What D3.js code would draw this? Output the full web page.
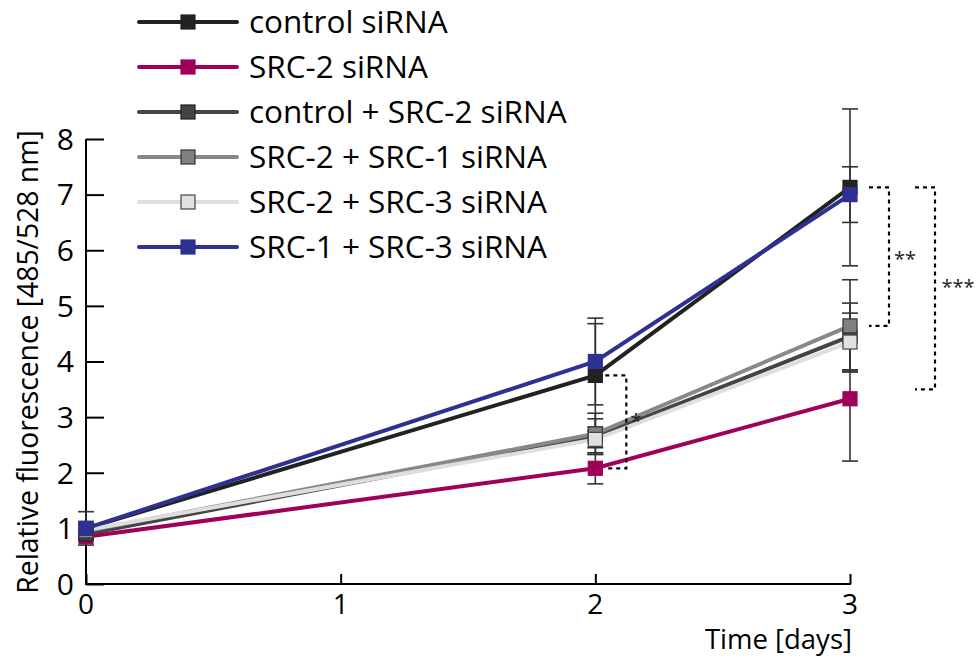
<!DOCTYPE html>
<html><head><meta charset="utf-8">
<script src="https://cdn.jsdelivr.net/npm/d3@7"></script>
<style>body{margin:0;background:#fff;} text{font-family:"Open Sans",sans-serif;}</style>
</head><body>
<svg id="c" width="977" height="660"></svg>
<script>
const days = [0, 2, 3];
const seriesNames = ["control siRNA","SRC-2 siRNA","control + SRC-2 siRNA","SRC-2 + SRC-1 siRNA","SRC-2 + SRC-3 siRNA","SRC-1 + SRC-3 siRNA"];
const controlVals = [1.0, 3.75, 7.13];
const src2Vals = [0.85, 2.08, 3.33];
const ctrlSrc2Vals = [0.9, 2.65, 4.45];
const src2src1Vals = [0.95, 2.7, 4.64];
const src2src3Vals = [0.97, 2.6, 4.35];
const src1src3Vals = [1.0, 4.0, 7.0];
const controlErr = [0.3, 0.93, 1.41];
const src2Err = [0.05, 0.28, 1.12];
const ctrlSrc2Err = [0.1, 0.32, 0.6];
const src2src1Err = [0.1, 0.37, 0.83];
const src2src3Err = [0.1, 0.15, 0.52];
const src1src3Err = [0.1, 0.78, 0.5];
const xTicks = [0, 1, 2, 3];
const yTicks = [0,1,2,3,4,5,6,7,8];
const lineColors = ["#222222","#a0005a","#444444","#888888","#dedede","#2e3192"];
const markerFill = ["#222222","#a0005a","#444444","#808080","#e0e0e0","#2e3192"];
const markerStroke = ["#222222","#a0005a","#222222","#333333","#444444","#2e3192"];

const vals = [controlVals, src2Vals, ctrlSrc2Vals, src2src1Vals, src2src3Vals, src1src3Vals];
const errs = [controlErr, src2Err, ctrlSrc2Err, src2src1Err, src2src3Err, src1src3Err];

const svg = d3.select("#c");
const x = d3.scaleLinear().domain([0,3]).range([86,850]);
const y = d3.scaleLinear().domain([0,8]).range([584,139]);

// axes
const yAxis = d3.axisRight(y).tickValues(yTicks).tickSize(18).tickFormat("");
svg.append("g").attr("transform","translate(86,0)").call(yAxis)
  .call(g=>g.select(".domain").remove())
  .call(g=>g.selectAll("line").attr("stroke","#000").attr("stroke-width",2));
svg.append("line").attr("x1",86).attr("x2",86).attr("y1",y(8)).attr("y2",y(0)+1).attr("stroke","#000").attr("stroke-width",2);
const xAxis = d3.axisTop(x).tickValues(xTicks).tickSize(10).tickFormat("");
svg.append("g").attr("transform","translate(0,584)").call(xAxis)
  .call(g=>g.select(".domain").remove())
  .call(g=>g.selectAll("line").attr("stroke","#000").attr("stroke-width",2));
svg.append("line").attr("x1",85).attr("x2",851).attr("y1",584).attr("y2",584).attr("stroke","#000").attr("stroke-width",2);

svg.selectAll(".ytl").data(yTicks).join("text").attr("class","ytl")
  .attr("x",74).attr("y",d=>y(d)).attr("dy","0.36em").attr("text-anchor","end")
  .attr("font-size",30).text(d=>d);
svg.selectAll(".xtl").data(xTicks).join("text").attr("class","xtl")
  .attr("x",d=>x(d)).attr("y",604).attr("dy","0.36em").attr("text-anchor","middle")
  .attr("font-size",28).text(d=>d);
svg.append("text").attr("x",852).attr("y",639).attr("dy","0.36em").attr("text-anchor","end")
  .attr("font-size",27.5).text("Time [days]");
svg.append("text").attr("transform","translate(28,362) rotate(-90)").attr("dy","0.36em")
  .attr("text-anchor","middle").attr("font-size",28.3).text("Relative fluorescence [485/528 nm]");

// error bars
const eg = svg.append("g");
vals.forEach((v,i)=>{
  v.forEach((d,j)=>{
    const e = errs[i][j], cx = x(days[j]);
    eg.append("line").attr("x1",cx).attr("x2",cx).attr("y1",y(d+e)).attr("y2",y(d-e)).attr("stroke","#333").attr("stroke-width",1.6);
    [d+e,d-e].forEach(t=>eg.append("line").attr("x1",cx-8).attr("x2",cx+8).attr("y1",y(t)).attr("y2",y(t)).attr("stroke","#333").attr("stroke-width",1.6));
  });
});

// lines and markers
const line = d3.line().x((d,j)=>x(days[j])).y(d=>y(d));
vals.forEach((v,i)=>{
  svg.append("path").datum(v).attr("d",line).attr("fill","none").attr("stroke",lineColors[i]).attr("stroke-width",4);
});
vals.forEach((v,i)=>{
  svg.selectAll(null).data(v).join("rect")
    .attr("x",(d,j)=>x(days[j])-7).attr("y",d=>y(d)-7).attr("width",14).attr("height",14)
    .attr("fill",markerFill[i]).attr("stroke",markerStroke[i]).attr("stroke-width",1.2);
});

// significance brackets
function bracket(xl, xr, v1, v2){
  svg.append("path").attr("d",`M${xl},${y(v1)}H${xr}V${y(v2)}H${xl}`)
    .attr("fill","none").attr("stroke","#000").attr("stroke-width",2.2).attr("stroke-dasharray","4,4");
}
bracket(x(2)+10, x(2)+31, controlVals[1], src2Vals[1]);
svg.append("text").attr("x",636).attr("y",y(3.0)).attr("dy","0.55em").attr("text-anchor","middle").attr("font-size",20).attr("fill","#222").text("*");
bracket(x(3)+19, x(3)+39, controlVals[2], src2src1Vals[2]);
svg.append("text").attr("x",905).attr("y",255).attr("dy","0.55em").attr("text-anchor","middle").attr("font-size",20).attr("fill","#222").text("**");
bracket(x(3)+65, x(3)+85, controlVals[2], 3.5);
svg.append("text").attr("x",958).attr("y",283).attr("dy","0.55em").attr("text-anchor","middle").attr("font-size",20).attr("fill","#222").text("***");

// legend
const lg = svg.append("g");
seriesNames.forEach((n,i)=>{
  const ly = 22 + i*45;
  lg.append("line").attr("x1",139).attr("x2",237).attr("y1",ly).attr("y2",ly).attr("stroke",lineColors[i]).attr("stroke-width",4).attr("stroke-linecap","round");
  lg.append("rect").attr("x",181).attr("y",ly-7).attr("width",14).attr("height",14).attr("fill",markerFill[i]).attr("stroke",markerStroke[i]).attr("stroke-width",1.2);
  lg.append("text").attr("x",249).attr("y",ly).attr("dy","0.36em").attr("font-size",31.5).text(n);
});
</script>
</body></html>
